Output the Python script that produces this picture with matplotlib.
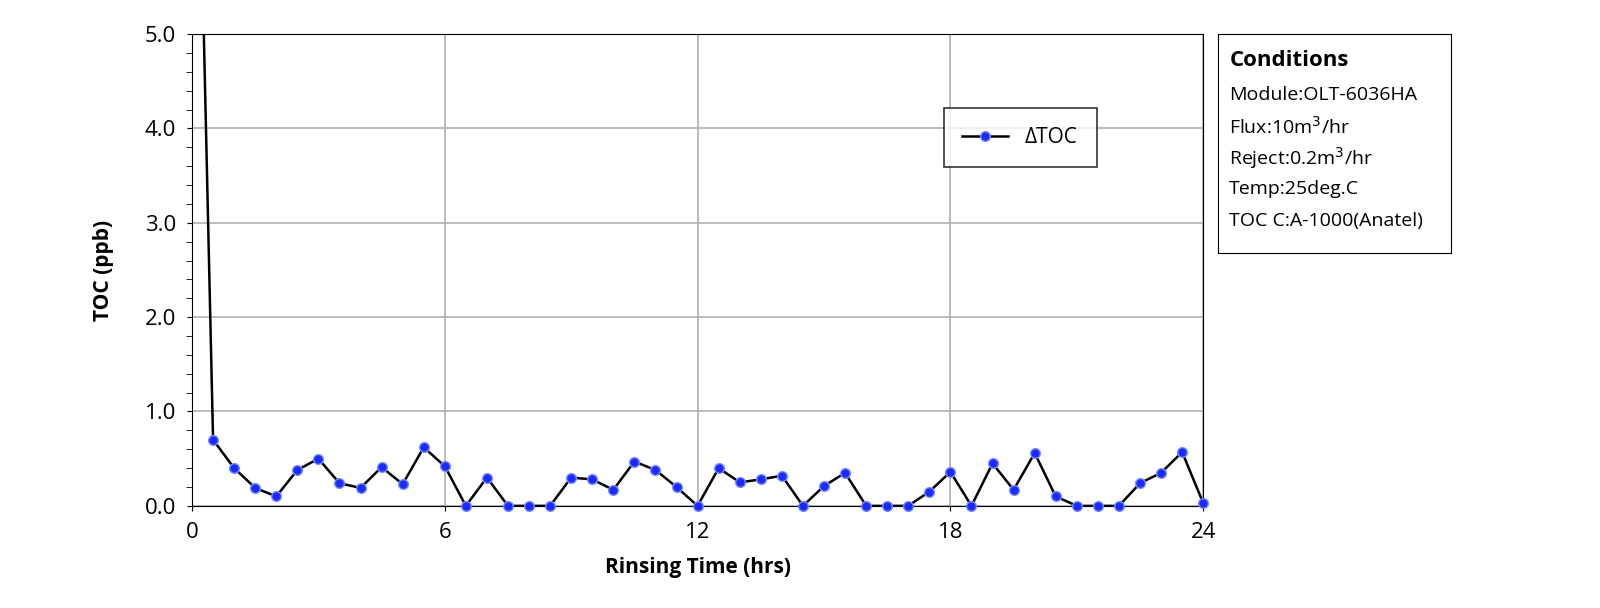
import matplotlib.pyplot as plt
import numpy as np
from matplotlib.ticker import MultipleLocator

# Rinsing time (hrs) and delta TOC (ppb)
hours = np.arange(0, 24.01, 0.5)
toc = [10.5, 0.70, 0.40, 0.19, 0.10, 0.38, 0.50, 0.24, 0.19, 0.41, 0.23, 0.62, 0.42,
       0.00, 0.30, 0.00, 0.00, 0.00, 0.30, 0.28, 0.17, 0.47, 0.38, 0.20, 0.00,
       0.40, 0.25, 0.28, 0.32, 0.00, 0.21, 0.35, 0.00, 0.00, 0.00, 0.15, 0.36,
       0.00, 0.45, 0.17, 0.56, 0.10, 0.00, 0.00, 0.00, 0.24, 0.35, 0.57, 0.03]
x_ticks = [0, 6, 12, 18, 24]
conditions = ["Module:OLT-6036HA", "Flux:10m$^3$/hr", "Reject:0.2m$^3$/hr",
              "Temp:25deg.C", "TOC C:A-1000(Anatel)"]

plt.rcParams['font.family'] = ['Open Sans', 'DejaVu Sans']
fig = plt.figure(figsize=(16, 6.08), dpi=100)
ax = fig.add_axes([0.12, 0.168, 0.632, 0.776])

toc_arr = np.array(toc)
inside = toc_arr <= 5
mk = dict(marker='o', ms=7, mfc='#1a2cff', mec='#7a8cff', mew=1)
ax.plot(hours, toc, color='black', lw=1.8, zorder=3)
ax.plot(hours[inside], toc_arr[inside], ls='none', clip_on=False, zorder=4, **mk)
ax.plot([], [], color='black', lw=1.8, label='ΔTOC', **mk)
ax.set_xlim(0, 24)
ax.set_ylim(0, 5)
ax.set_xticks(x_ticks)
ax.yaxis.set_major_locator(MultipleLocator(1))
ax.yaxis.set_minor_locator(MultipleLocator(0.2))
ax.set_yticklabels([f"{v:.1f}" for v in ax.get_yticks()])
ax.grid(True, which='major', color='#b0b0b0', lw=1.2)
ax.tick_params(axis='both', labelsize=16, pad=8)
ax.tick_params(axis='y', which='minor', length=4)
for s in ax.spines.values():
    s.set_color('black')
ax.set_xlabel('Rinsing Time (hrs)', fontsize=15, fontweight='bold', labelpad=10)
ax.set_ylabel('TOC (ppb)', fontsize=15, fontweight='bold', labelpad=22)

leg = ax.legend(loc='upper left', bbox_to_anchor=(0.733, 0.865), fontsize=15,
                fancybox=False, edgecolor='black', handlelength=2.2,
                borderpad=0.9)
leg.get_frame().set_linewidth(1.2)

# conditions box
box = fig.add_axes([0.761, 0.584, 0.146, 0.36])
box.set_xticks([])
box.set_yticks([])
box.text(0.05, 0.88, 'Conditions', fontsize=16, fontweight='bold', transform=box.transAxes, va='center')
for i, line in enumerate(conditions):
    box.text(0.05, 0.72 - i * 0.143, line, fontsize=14, transform=box.transAxes, va='center')

fig.savefig('out.png')
